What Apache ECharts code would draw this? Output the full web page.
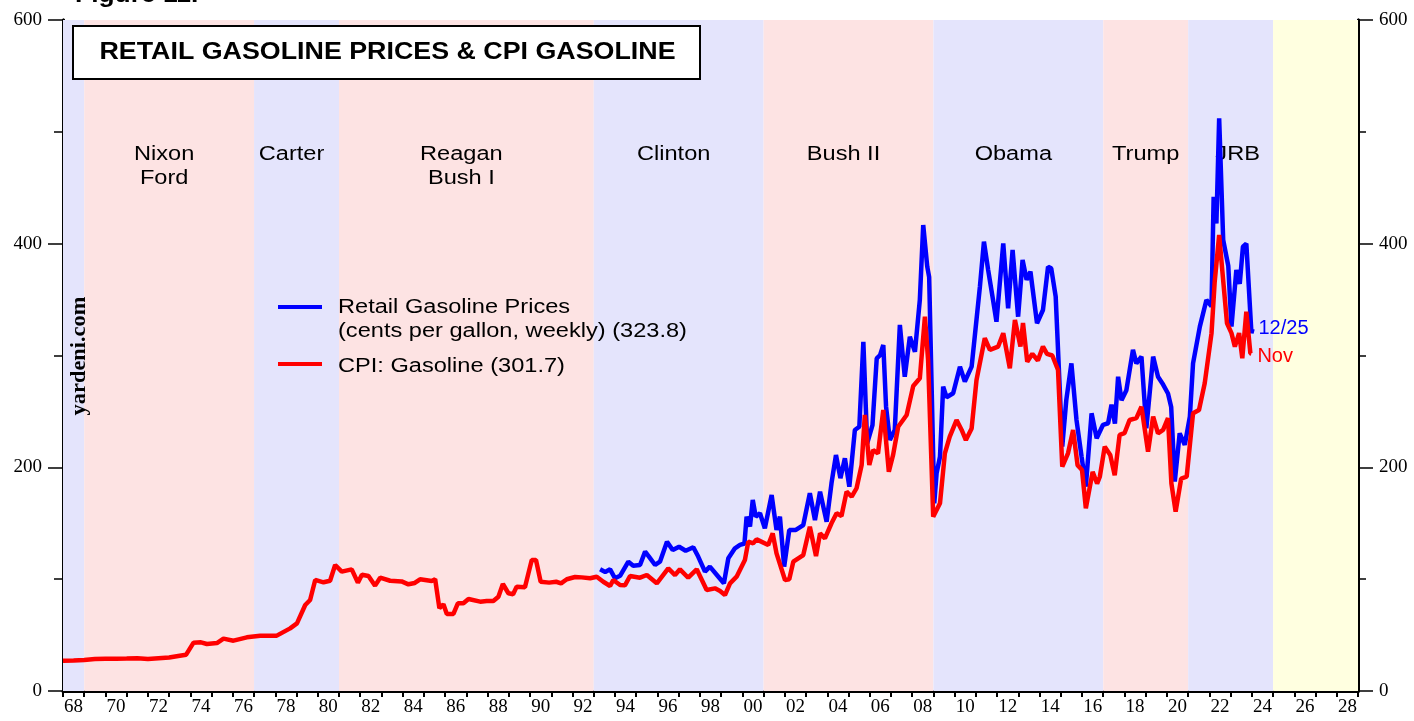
<!DOCTYPE html>
<html><head><meta charset="utf-8">
<script src="https://cdn.jsdelivr.net/npm/echarts@6/dist/echarts.min.js"></script>
<style>html,body{margin:0;padding:0;background:#fff}#c{width:1414px;height:721px}</style>
</head><body><div id="c"></div>
<script>
// ---- x-axis tick labels (years 1968..2028) ----
const yearCats = [];
for (let y = 1968; y <= 2028; y++) yearCats.push(String(y).slice(2));

// ---- presidential bands ----
const bandStarts = [1968, 1969, 1977, 1981, 1993, 2001, 2009, 2017, 2021, 2025];
const bandEnds   = [1969, 1977, 1981, 1993, 2001, 2009, 2017, 2021, 2025, 2029];
const bandNames  = ['', 'Nixon\nFord', 'Carter', 'Reagan\nBush I', 'Clinton', 'Bush II', 'Obama', 'Trump', 'JRB', ''];
const bandKinds  = ['D', 'R', 'D', 'R', 'D', 'R', 'D', 'R', 'D', 'F'];

// ---- CPI: Gasoline ----
const cpiDates = [1968.0,1968.5,1969.0,1969.5,1970.0,1970.5,1971.0,1971.5,1972.0,1972.5,1973.0,1973.5,1973.8,1974.15,1974.5,1974.78,1975.25,1975.56,1976.03,1976.66,1977.29,1978.07,1978.7,1979.02,1979.41,1979.64,1979.88,1980.27,1980.58,1980.82,1981.13,1981.6,1981.89,1982.08,1982.39,1982.7,1982.94,1983.41,1983.95,1984.27,1984.57,1984.82,1985.37,1985.53,1985.73,1985.92,1986.08,1986.39,1986.6,1986.86,1987.1,1987.65,1987.96,1988.27,1988.51,1988.72,1988.98,1989.2,1989.37,1989.76,1990.08,1990.28,1990.5,1990.9,1991.23,1991.46,1991.73,1992.12,1992.43,1992.83,1993.14,1993.45,1993.77,1993.92,1994.24,1994.47,1994.71,1995.18,1995.5,1995.97,1996.51,1996.83,1997.06,1997.45,1997.85,1998.32,1998.71,1998.95,1999.18,1999.42,1999.73,2000.12,2000.28,2000.51,2000.67,2001.22,2001.43,2001.61,2002.01,2002.21,2002.4,2002.87,2003.18,2003.47,2003.66,2003.89,2004.2,2004.44,2004.67,2004.91,2005.15,2005.38,2005.62,2005.77,2005.98,2006.16,2006.39,2006.64,2006.9,2007.1,2007.34,2007.74,2008.05,2008.36,2008.6,2008.75,2008.99,2009.31,2009.54,2009.77,2010.09,2010.33,2010.53,2010.8,2011.03,2011.42,2011.66,2012.05,2012.29,2012.6,2012.84,2013.1,2013.22,2013.42,2013.66,2013.92,2014.16,2014.35,2014.6,2014.87,2015.07,2015.34,2015.58,2015.79,2016.0,2016.18,2016.5,2016.71,2016.84,2017.07,2017.33,2017.54,2017.77,2018.0,2018.24,2018.56,2018.8,2019.11,2019.35,2019.58,2019.82,2020.05,2020.21,2020.41,2020.67,2020.93,2021.23,2021.51,2021.78,2022.1,2022.25,2022.46,2022.65,2022.83,2023.04,2023.2,2023.4,2023.55,2023.74,2023.93,2023.98];
const cpiValues = [27.0,27.3,27.8,28.6,28.8,28.9,29.0,29.2,28.6,29.3,30.0,31.6,32.5,43.2,43.5,42.0,42.9,46.8,45.0,48.0,49.5,49.5,56.0,60.5,76.9,81.4,99.3,97.2,98.6,112.7,106.7,108.8,96.9,104.0,102.8,94.2,101.3,98.6,98.0,95.4,96.6,99.9,98.4,100.0,74.0,77.5,68.9,68.9,78.4,78.4,82.3,79.9,80.5,80.5,84.3,95.7,87.4,86.5,93.3,92.7,117.1,117.1,97.7,96.9,97.7,96.3,99.9,101.9,101.6,100.8,102.2,97.7,93.9,99.3,94.8,94.5,102.8,101.3,103.7,96.3,109.7,103.7,108.8,101.3,108.8,90.3,91.8,89.4,85.8,96.3,102.2,117.1,133.5,132.1,135.6,130.6,141.0,123.1,99.3,99.9,115.6,121.6,146.9,120.7,141.0,136.5,150.0,158.9,156.5,178.2,173.7,181.3,202.1,246.8,202.1,215.5,212.5,251.3,196.1,211.0,236.3,246.8,272.7,279.6,334.7,296.0,155.9,167.8,212.5,227.4,242.3,233.4,224.4,234.8,278.1,315.4,305.0,308.0,319.9,288.6,331.8,308.0,329.0,294.5,301.5,295.5,308.0,301.5,300.0,287.0,200.6,212.5,233.4,202.0,197.7,163.4,196.0,185.5,191.6,218.5,211.0,193.0,229.0,230.5,242.3,244.0,254.2,214.0,245.3,230.4,233.4,244.0,185.7,160.4,190.0,191.6,248.3,251.3,275.2,319.9,366.0,407.7,367.0,328.8,320.0,307.9,320.0,297.5,339.2,302.0,301.7];

// ---- Retail Gasoline Prices (cents per gallon) ----
const retailDates = [1993.3,1993.54,1993.77,1994.0,1994.24,1994.63,1994.86,1995.18,1995.42,1995.6,1995.89,1996.12,1996.45,1996.72,1997.02,1997.33,1997.69,1997.92,1998.24,1998.47,1998.87,1999.13,1999.34,1999.65,1999.89,2000.1,2000.2,2000.36,2000.49,2000.63,2000.83,2001.06,2001.38,2001.61,2001.77,2001.97,2002.21,2002.52,2002.87,2003.18,2003.42,2003.66,2003.97,2004.2,2004.41,2004.62,2004.83,2005.04,2005.3,2005.51,2005.7,2005.88,2006.13,2006.33,2006.49,2006.64,2006.77,2006.95,2007.18,2007.42,2007.65,2007.89,2008.13,2008.36,2008.52,2008.71,2008.8,2009.04,2009.15,2009.31,2009.46,2009.62,2009.93,2010.25,2010.48,2010.8,2011.19,2011.38,2011.58,2011.81,2011.97,2012.29,2012.52,2012.73,2012.99,2013.2,2013.39,2013.57,2013.88,2014.16,2014.4,2014.55,2014.76,2015.07,2015.26,2015.5,2015.74,2015.98,2016.18,2016.45,2016.69,2016.99,2017.23,2017.39,2017.55,2017.7,2017.86,2018.09,2018.4,2018.56,2018.8,2019.03,2019.35,2019.58,2019.82,2020.05,2020.2,2020.37,2020.6,2020.84,2021.08,2021.23,2021.55,2021.86,2022.1,2022.2,2022.33,2022.46,2022.65,2022.89,2023.04,2023.27,2023.43,2023.58,2023.74,2023.98,2024.03];
const retailValues = [108.8,106.5,108.8,100.8,103.0,115.6,112.0,112.6,124.6,120.2,112.7,115.6,133.5,126.0,129.0,125.4,128.5,120.2,106.7,111.2,102.2,96.3,118.7,127.6,130.6,131.9,155.9,147.0,170.8,155.9,158.9,145.5,175.3,144.0,155.9,111.2,144.0,144.0,148.4,176.8,152.9,178.2,151.4,185.8,211.0,190.3,208.1,182.7,233.4,236.3,312.3,221.5,237.8,297.5,300.4,309.4,254.2,224.4,233.4,327.3,281.0,316.8,303.4,349.6,416.7,379.4,370.0,167.8,194.7,209.5,272.1,262.7,266.2,290.0,276.7,290.0,361.5,401.8,376.4,349.6,330.2,400.3,342.2,394.3,334.7,385.4,367.8,375.0,328.8,340.7,379.4,378.0,352.6,218.5,260.2,293.0,242.3,209.5,182.7,248.3,226.0,238.0,239.4,256.0,239.0,281.0,260.0,269.0,305.0,293.0,299.0,235.0,299.0,281.0,274.0,266.0,254.0,187.2,230.4,220.0,245.3,293.0,325.8,349.6,344.0,442.0,418.0,512.0,403.3,380.0,325.8,376.4,364.0,397.3,400.0,319.9,323.8];

// ---- y-axis ticks ----
const yMin = 0, yMax = 600, yLabelStep = 200, yMinorStep = 100;

const kindColor = {D: '#e4e4fc', R: '#fde3e3', F: '#ffffe0'};
const labelShift = {'Trump': 0, 'JRB': 7};
const SANS = 'Liberation Sans, Arial, sans-serif';
const SERIF = 'Liberation Serif, Times New Roman, serif';
const WIDE = 1.18;

const chart = echarts.init(document.getElementById('c'), null, {renderer: 'canvas'});
const GRID = {left: 63, right: 56, top: 20, bottom: 30};

function yAxisCfg(pos, step, showLabel, tickLen, margin) {
  return {
    type: 'value', position: pos, min: yMin, max: yMax, interval: step,
    splitLine: {show: false},
    axisLine: {show: true, lineStyle: {color: '#000', width: 3}},
    axisTick: {show: true, inside: false, length: tickLen, lineStyle: {color: '#000', width: 1.5}},
    axisLabel: {show: showLabel, color: '#000', fontFamily: SERIF, fontSize: 19, margin: margin}
  };
}

function renderBand(params, api) {
  const i = params.dataIndex;
  const p0 = api.coord([api.value(0), yMax]);
  const p1 = api.coord([api.value(1), yMin]);
  const name = bandNames[i];
  const children = [{
    type: 'rect',
    shape: {x: p0[0], y: p0[1], width: p1[0] - p0[0], height: p1[1] - p0[1]},
    style: {fill: kindColor[bandKinds[i]]}
  }];
  if (name) {
    const shift = (name in labelShift) ? labelShift[name] : -5;
    children.push({
      type: 'text', x: (p0[0] + p1[0]) / 2 + shift, y: p0[1] + 122, scaleX: WIDE,
      style: {text: name, font: '20px ' + SANS, fill: '#000', align: 'center', verticalAlign: 'top', lineHeight: 24}
    });
  }
  return {type: 'group', children: children};
}

chart.setOption({
  animation: false,
  backgroundColor: '#fff',
  grid: GRID,
  xAxis: [
    {type: 'value', min: 1968, max: 2029, show: false},
    {
      type: 'category', data: yearCats, position: 'bottom', boundaryGap: true,
      axisLine: {show: true, lineStyle: {color: '#000', width: 3}},
      axisTick: {show: true, interval: 0, length: 6, lineStyle: {color: '#000', width: 2}},
      axisLabel: {interval: 1, color: '#000', fontFamily: SERIF, fontSize: 19, margin: 7},
      splitLine: {show: false}
    },
    {
      type: 'value', position: 'top', min: 1968, max: 2029,
      axisLine: {show: true, lineStyle: {color: '#000', width: 2}},
      axisTick: {show: false}, axisLabel: {show: false}, splitLine: {show: false}
    }
  ],
  yAxis: [
    yAxisCfg('left', yLabelStep, true, 15, 21),
    yAxisCfg('left', yMinorStep, false, 9, 8),
    yAxisCfg('right', yLabelStep, true, 15, 21),
    yAxisCfg('right', yMinorStep, false, 8, 8)
  ],
  series: [
    {
      type: 'custom', name: 'bands', xAxisIndex: 0, yAxisIndex: 0, z: 1, silent: true,
      renderItem: renderBand,
      encode: {x: [0, 1]},
      data: bandStarts.map((s, i) => [s, bandEnds[i]])
    },
    {
      type: 'line', name: 'Retail Gasoline Prices',
      data: retailDates.map((d, i) => [d, retailValues[i]]),
      xAxisIndex: 0, yAxisIndex: 0, z: 3, symbol: 'none',
      lineStyle: {color: '#0000ff', width: 4.5}, itemStyle: {color: '#0000ff'},
      endLabel: {show: true, formatter: '12/25', color: '#0000ff', fontFamily: SANS, fontSize: 20, distance: 6}
    },
    {
      type: 'line', name: 'CPI: Gasoline',
      data: cpiDates.map((d, i) => [d, cpiValues[i]]),
      xAxisIndex: 0, yAxisIndex: 0, z: 4, symbol: 'none',
      lineStyle: {color: '#ff0000', width: 4.5}, itemStyle: {color: '#ff0000'},
      endLabel: {show: true, formatter: 'Nov', color: '#ff0000', fontFamily: SANS, fontSize: 20, distance: 6, offset: [0, 3]}
    }
  ],
  graphic: [
    {type: 'text', x: 75, y: 7, scaleX: 1.1, z: 10, style: {text: 'Figure 11.', font: 'bold 24px ' + SANS, fill: '#000', verticalAlign: 'bottom'}},
    {type: 'rect', shape: {x: 73, y: 26, width: 627, height: 53}, z: 10,
     style: {fill: '#fff', stroke: '#000', lineWidth: 2}},
    {type: 'text', x: 387.5, y: 53, scaleX: 1.166, z: 11,
     style: {text: 'RETAIL GASOLINE PRICES & CPI GASOLINE', font: 'bold 23px ' + SANS, fill: '#000', align: 'center', verticalAlign: 'middle'}},
    {type: 'line', shape: {x1: 278, y1: 307, x2: 322, y2: 307}, z: 10, style: {stroke: '#0000ff', lineWidth: 4}},
    {type: 'text', x: 338, y: 307, scaleX: WIDE, z: 10, style: {text: 'Retail Gasoline Prices', font: '20px ' + SANS, fill: '#000', verticalAlign: 'middle'}},
    {type: 'text', x: 338, y: 331, scaleX: WIDE, z: 10, style: {text: '(cents per gallon, weekly) (323.8)', font: '20px ' + SANS, fill: '#000', verticalAlign: 'middle'}},
    {type: 'line', shape: {x1: 278, y1: 364, x2: 322, y2: 364}, z: 10, style: {stroke: '#ff0000', lineWidth: 4}},
    {type: 'text', x: 338, y: 366, scaleX: WIDE, z: 10, style: {text: 'CPI: Gasoline (301.7)', font: '20px ' + SANS, fill: '#000', verticalAlign: 'middle'}},
    {type: 'text', x: 80, y: 356, rotation: Math.PI / 2, scaleX: 1.12, z: 10,
     style: {text: 'yardeni.com', font: 'bold 20px ' + SERIF, fill: '#000', align: 'center', verticalAlign: 'middle'}}
  ]
});
</script></body></html>
